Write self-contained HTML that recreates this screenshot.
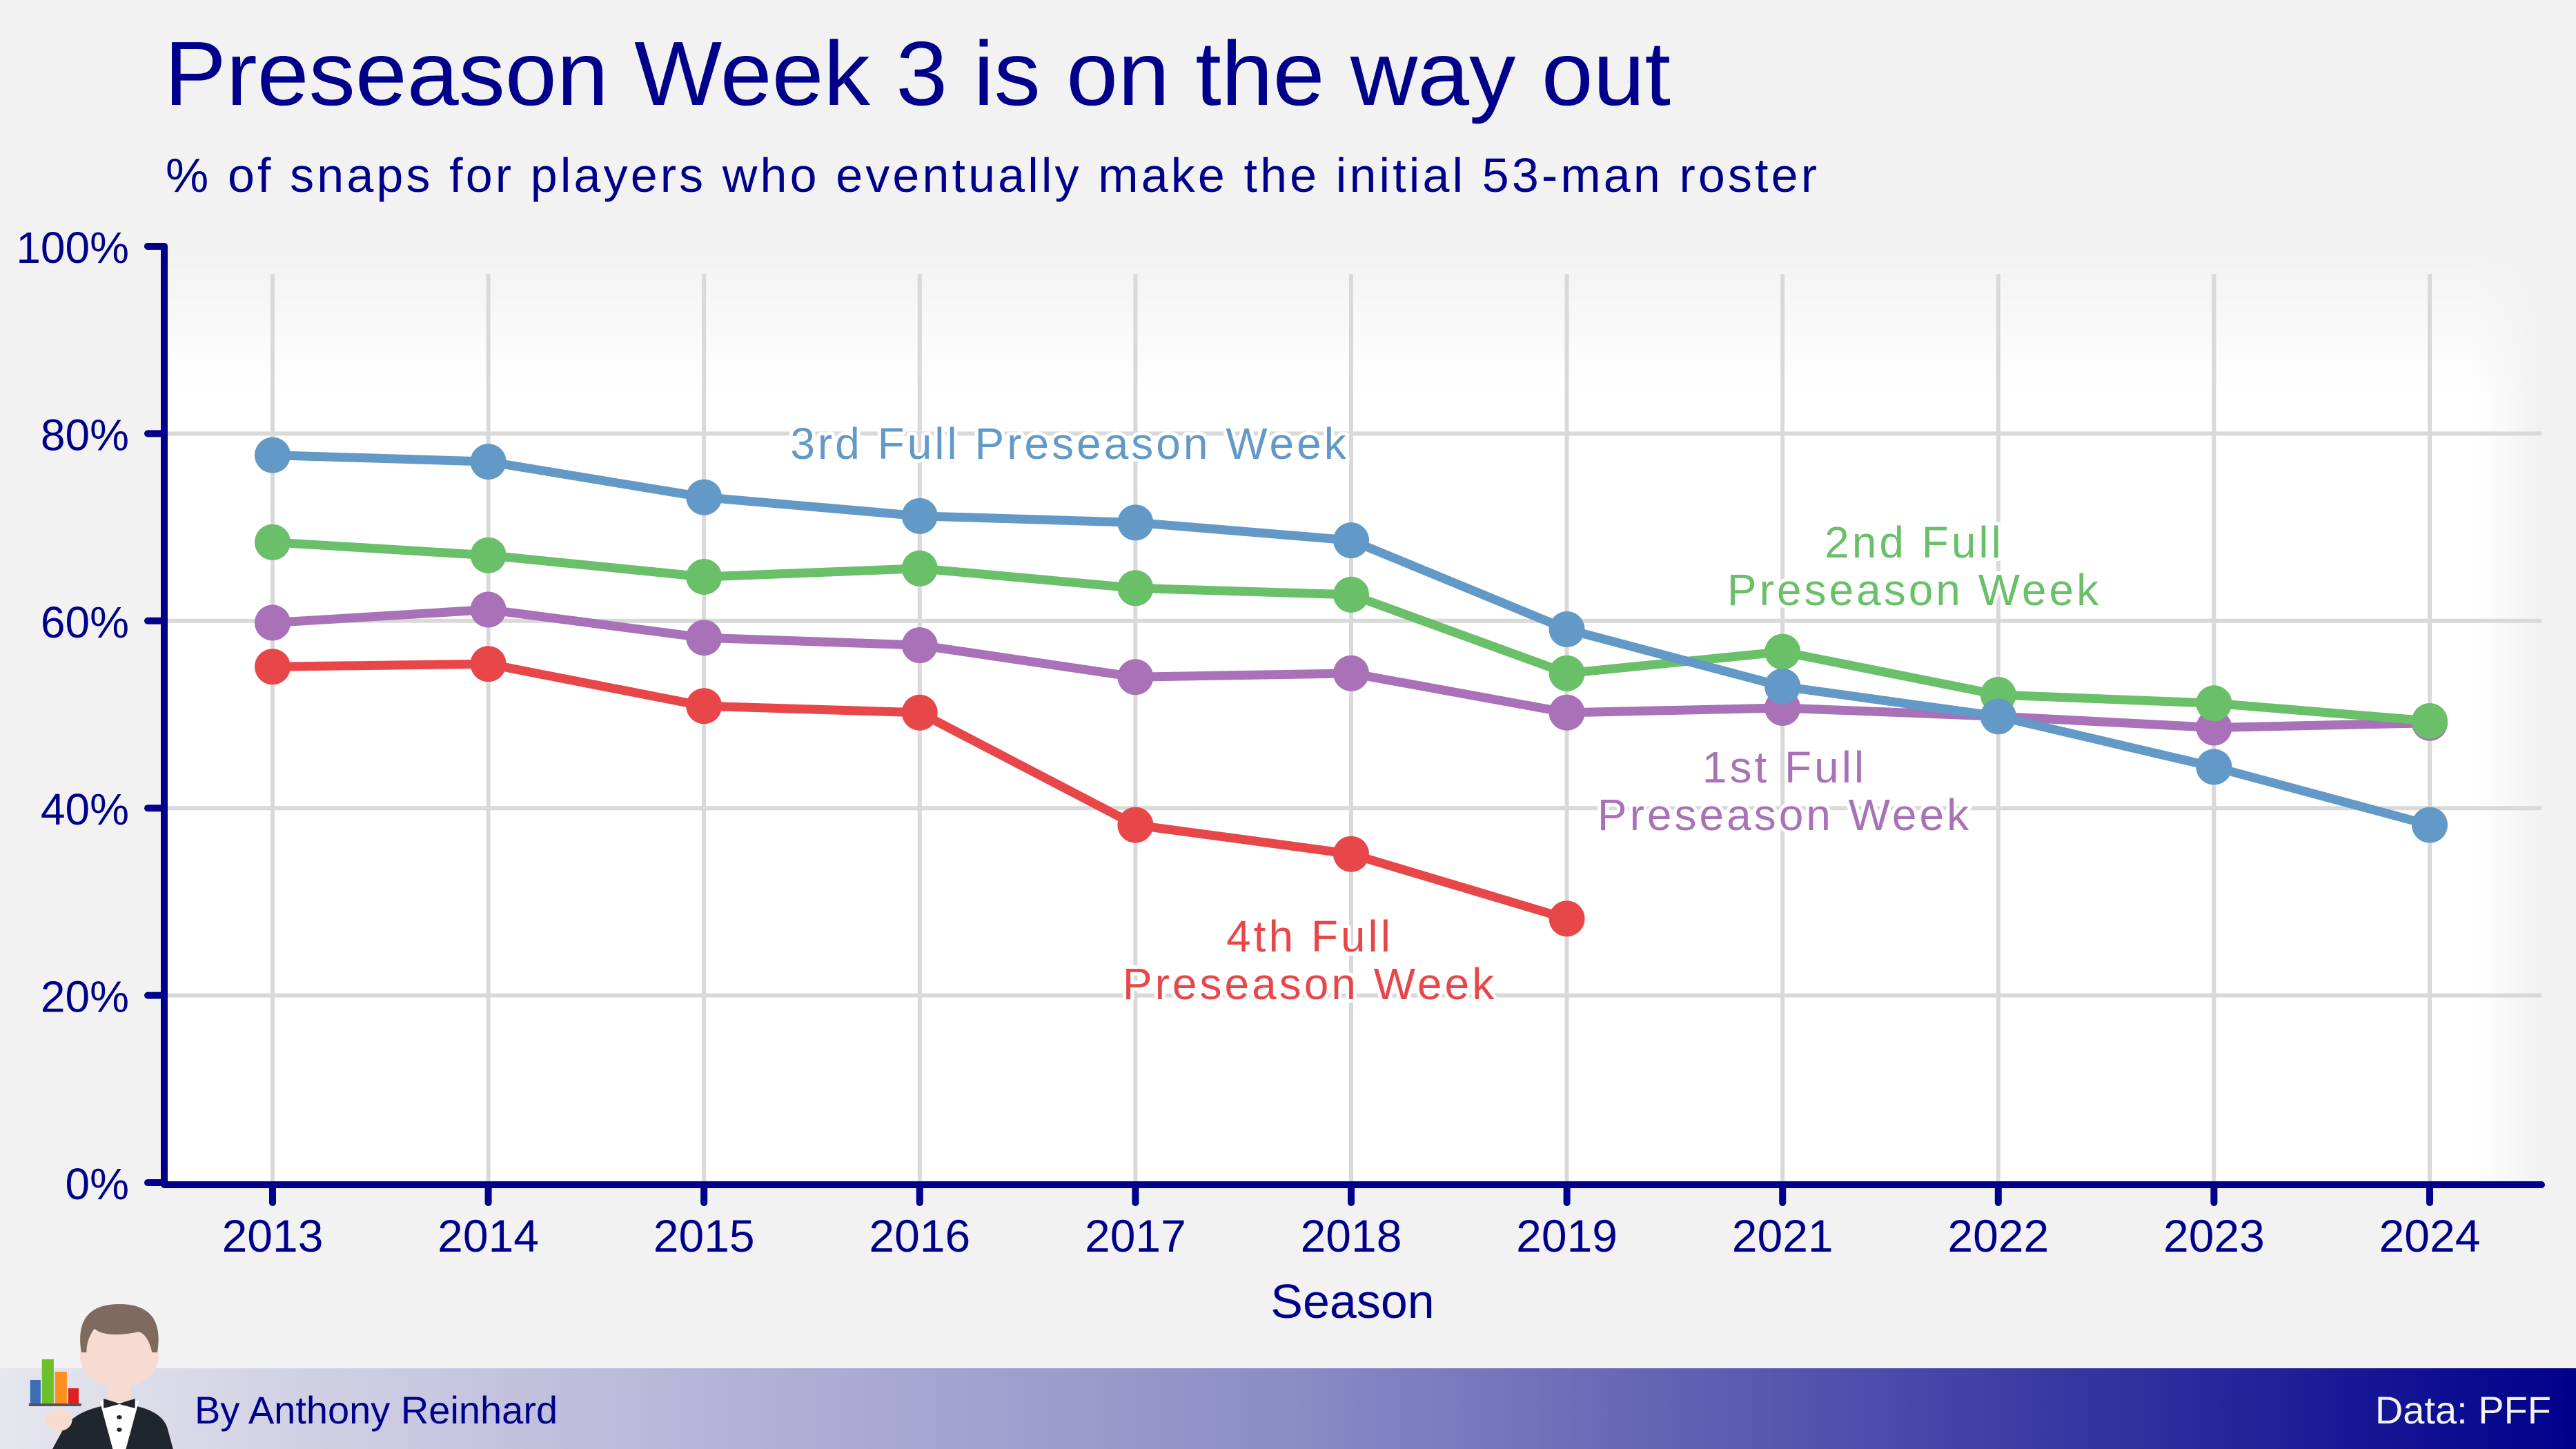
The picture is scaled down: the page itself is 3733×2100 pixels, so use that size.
<!DOCTYPE html>
<html><head><meta charset="utf-8"><style>
html,body{margin:0;padding:0;background:#f2f2f2;}
svg{display:block;font-family:"Liberation Sans",sans-serif;}
</style></head><body>
<svg id="chart" width="3733" height="2100" viewBox="0 0 3733 2100" xmlns="http://www.w3.org/2000/svg">
<defs>
<linearGradient id="gT" x1="0" y1="0" x2="0" y2="1"><stop offset="0" stop-color="#000"/><stop offset="0.16" stop-color="#fff"/><stop offset="1" stop-color="#fff"/></linearGradient>
<linearGradient id="gR" x1="0" y1="0" x2="1" y2="0"><stop offset="0" stop-color="#fff"/><stop offset="0.97" stop-color="#fff"/><stop offset="1" stop-color="#000"/></linearGradient>
<mask id="mT" maskUnits="userSpaceOnUse" x="0" y="0" width="3733" height="2100"><rect x="238" y="357" width="3445" height="1360" fill="url(#gT)"/></mask>
<mask id="mR" maskUnits="userSpaceOnUse" x="0" y="0" width="3733" height="2100"><rect x="238" y="357" width="3445" height="1360" fill="url(#gR)"/></mask>
<linearGradient id="footerGrad" x1="0" y1="0" x2="1" y2="0"><stop offset="0" stop-color="#e6e6ee"/><stop offset="0.5" stop-color="#8c8cc6"/><stop offset="1" stop-color="#00008b"/></linearGradient>
</defs>
<rect x="0" y="0" width="3733" height="2100" fill="#f2f2f2"/>
<text x="238" y="152" font-size="132" fill="#00008b" textLength="2183" lengthAdjust="spacingAndGlyphs">Preseason Week 3 is on the way out</text>
<text x="240" y="278" font-size="70" fill="#00008b" textLength="2393" lengthAdjust="spacing">% of snaps for players who eventually make the initial 53-man roster</text>
<g mask="url(#mR)">
<rect x="238" y="357" width="3445" height="1360" fill="#ffffff" mask="url(#mT)"/>
</g>
<g id="grid"></g>
<g id="series"></g>
<g id="labels"></g>
<g id="axes"></g>
<text x="1960" y="1910" font-size="70" fill="#00008b" text-anchor="middle">Season</text>
<rect x="0" y="1983" width="3733" height="117" fill="url(#footerGrad)"/>
<text x="282" y="2063" font-size="56" fill="#00008b">By Anthony Reinhard</text>
<text x="3697" y="2063" font-size="56" fill="#f2f2f2" text-anchor="end">Data: PFF</text>
<g transform="matrix(1.9,0,0,1,0,0)">
<path d="M40 2100 L48 2072 Q58 2040 91 2034 Q124 2040 128 2072 L132 2100 Z" fill="#20262d"/>
<path d="M76 2030 L106 2030 L96 2100 L86 2100 Z" fill="#ffffff"/>
<rect x="82" y="2005" width="18" height="27" fill="#f7dbd0"/>
<path d="M79 2027 L91 2034 L103 2027 L103 2041 L91 2035 L79 2041 Z" fill="#20262d"/>
<ellipse cx="91" cy="2054" rx="2" ry="3" fill="#20262d"/><ellipse cx="91" cy="2072" rx="2" ry="3" fill="#20262d"/>
<ellipse cx="91" cy="1965" rx="30" ry="46" fill="#f7dbd0"/>
<path d="M62 1960 Q56 1890 91 1890 Q126 1890 120 1960 L116 1960 Q113 1935 106 1930 Q82 1940 72 1926 Q66 1940 66 1960 Z" fill="#7e6a5e"/>
<ellipse cx="45" cy="2058" rx="10" ry="16" fill="#f7dbd0"/>
<rect x="22" y="2034" width="40" height="4" fill="#555"/>
<rect x="23" y="2000" width="8" height="34" fill="#3a6fb5"/>
<rect x="32" y="1970" width="9" height="64" fill="#6cc12a"/>
<rect x="42" y="1988" width="9" height="46" fill="#ff9020"/>
<rect x="52" y="2012" width="8" height="22" fill="#e02020"/>
</g>
<script>
const years = ["2013","2014","2015","2016","2017","2018","2019","2021","2022","2023","2024"];
const yTicks = [0,20,40,60,80,100];
const third = [77.7,77.0,73.2,71.2,70.5,68.6,59.1,53.0,49.8,44.4,38.2];
const second = [68.4,67.0,64.7,65.6,63.5,62.8,54.4,56.7,52.1,51.2,49.3];
const first = [59.8,61.2,58.2,57.4,54.0,54.4,50.2,50.7,49.8,48.6,49.1];
const fourth = [55.1,55.4,50.9,50.2,38.2,35.1,28.2];

const NS="http://www.w3.org/2000/svg";
const X0=395, XSTEP=312.6, Y0=1714, YTOP=357;
function xs(i){return X0+i*XSTEP;}
function ys(v){return Y0-(v/100)*(Y0-YTOP);}
function mk(tag,attrs,parent){const e=document.createElementNS(NS,tag);for(const k in attrs)e.setAttribute(k,attrs[k]);parent.appendChild(e);return e;}
const grid=document.getElementById('grid'),axes=document.getElementById('axes'),ser=document.getElementById('series'),lab=document.getElementById('labels');
yTicks.forEach(t=>{
  if(t>0&&t<100){const g=mk('line',{x1:238,x2:3683,y1:ys(t),y2:ys(t),stroke:'#d9d9d9','stroke-width':6},grid);
  
  }
  const tk=mk('line',{x1:214,x2:238,y1:ys(t),y2:ys(t),stroke:'#00008b','stroke-width':10,'stroke-linecap':'round'},axes);
  
  
  const tl=mk('text',{x:187,y:ys(t)+24,'font-size':64,fill:'#00008b','text-anchor':'end'},axes);
  tl.textContent=t+'%';
  
  
});
years.forEach((y,i)=>{
  const g=mk('line',{x1:xs(i),x2:xs(i),y1:YTOP+40,y2:Y0,stroke:'#d9d9d9','stroke-width':6},grid);
  
  
  const tk=mk('line',{x1:xs(i),x2:xs(i),y1:1717,y2:1743,stroke:'#00008b','stroke-width':10,'stroke-linecap':'round'},axes);
  
  
  const tl=mk('text',{x:xs(i),y:1814,'font-size':66,fill:'#00008b','text-anchor':'middle'},axes);
  tl.textContent=y;
  
  
});
const ya=mk('path',{d:'M214 357 L238 357 L238 1717 L3683 1717',fill:'none',stroke:'#00008b','stroke-width':10,'stroke-linecap':'round','stroke-linejoin':'round'},axes);


function drawSeries(vals,color,name){
  const g=mk('g',{},ser);
  
  
  const pts=vals.map((v,i)=>xs(i)+','+ys(v)).join(' ');
  const pl=mk('polyline',{points:pts,fill:'none',stroke:color,'stroke-width':13,'stroke-linejoin':'round'},g);
  
  
  vals.forEach((v,i)=>{const c=mk('circle',{cx:xs(i),cy:ys(v),r:26,fill:color},g);
    
    });
}
drawSeries(fourth,'#e8474a','fourth-week');
drawSeries(first,'#a971b8','first-week');
drawSeries(second,'#6abf69','second-week');
drawSeries(third,'#6399c6','third-week');
function label(lines,x,y,color,name){
  const t=mk('text',{x:x,y:y,'font-size':64,fill:color,'text-anchor':'middle','letter-spacing':4,stroke:'#ffffff','stroke-width':10,'paint-order':'stroke','stroke-linejoin':'round'},lab);
  
  
  lines.forEach((l,k)=>{const s=mk('tspan',{x:x,dy:k?69:0},t);s.textContent=l;});
}
label(['3rd Full Preseason Week'],1550,665,'#6399c6','third-week-label');
label(['2nd Full','Preseason Week'],2774,808,'#6abf69','second-week-label');
label(['1st Full','Preseason Week'],2586,1134,'#a971b8','first-week-label');
label(['4th Full','Preseason Week'],1898,1379,'#e8474a','fourth-week-label');
</script>
</svg>
</body></html>
